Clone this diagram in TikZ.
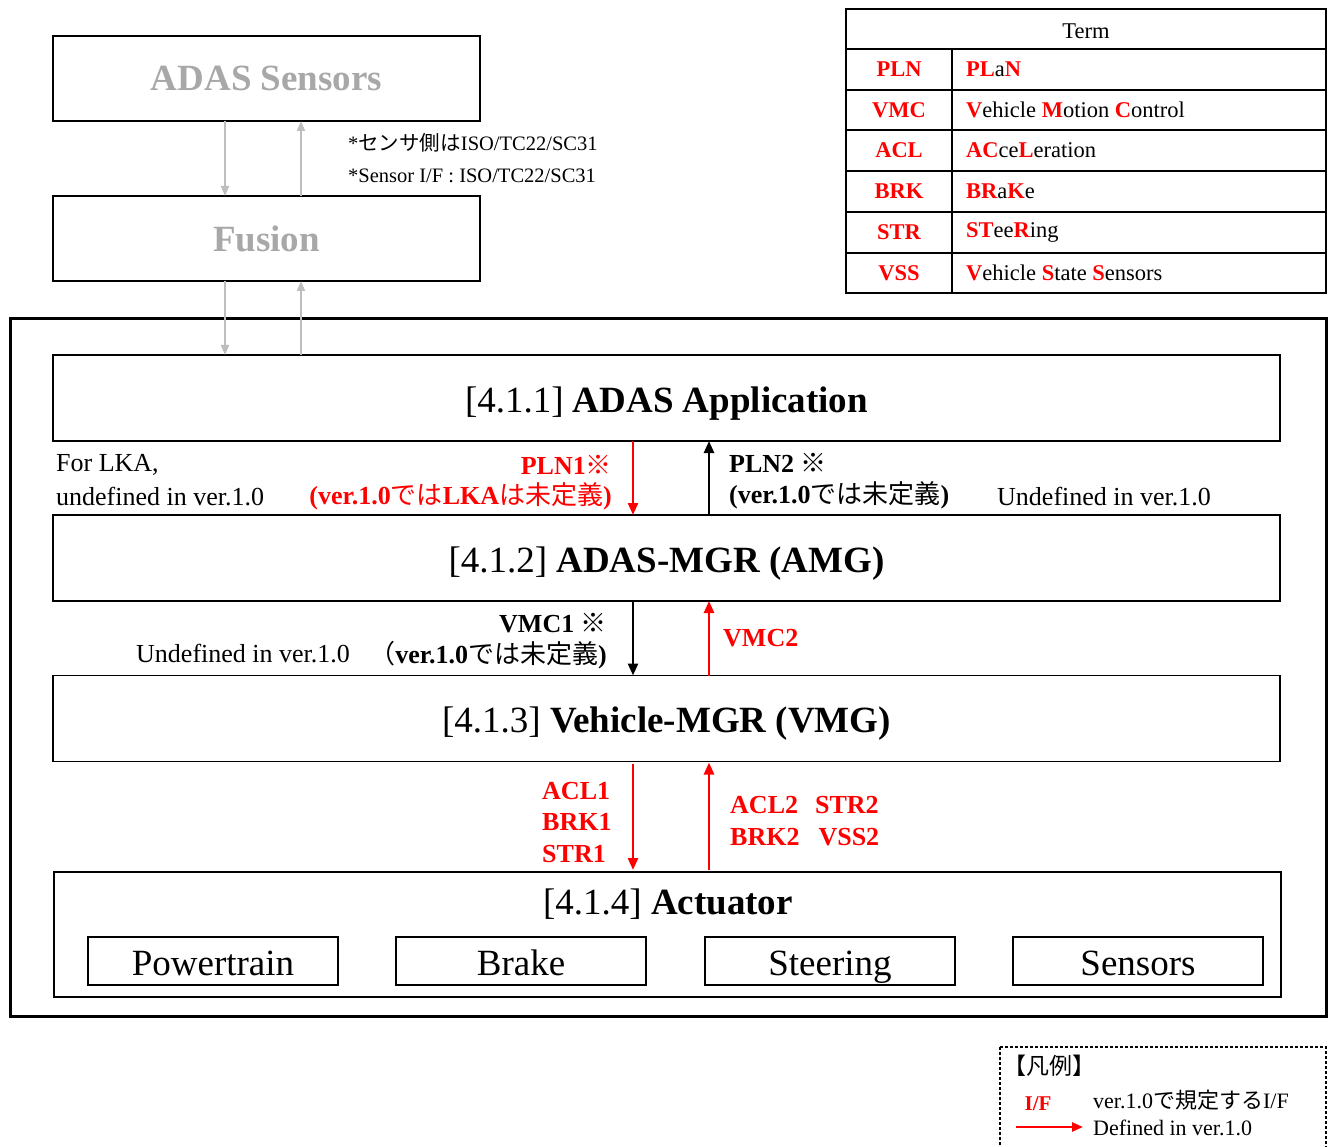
\documentclass[tikz,border=0pt]{standalone}
\usepackage{fontspec}
\setmainfont{Liberation Serif}
\newfontfamily\jp{Noto Sans CJK JP}
\usetikzlibrary{arrows.meta}
\definecolor{gtext}{RGB}{168,168,168}
\definecolor{garrow}{RGB}{190,190,190}
\newcommand\J[1]{{\jp\mdseries #1}}
\newcommand\R[1]{{\bfseries\color{red}#1}}
\newcommand\fs[1]{\fontsize{#1}{#1}\selectfont}
\begin{document}
\begin{tikzpicture}[x=1pt,y=-1pt,
  box/.style={draw,line width=1.2pt,inner sep=0,outer sep=0,minimum width=1227pt,minimum height=86pt,font=\fs{37},text height=28pt,text depth=0pt},
  topbox/.style={draw,line width=1.2pt,inner sep=0,outer sep=0,minimum width=427pt,minimum height=85pt,font=\fs{37}\bfseries,text=gtext},
  subbox/.style={draw,line width=1.2pt,inner sep=0,outer sep=0,minimum width=250pt,minimum height=48pt,font=\fs{37},text height=29pt,text depth=0pt},
  lbl/.style={inner sep=0,font=\fs{26}},
  blbl/.style={inner sep=0,font=\fs{26}\bfseries},
  garr/.style={draw=garrow,line width=2pt,-{Triangle[length=10pt,width=8pt]}},
  rarr/.style={draw=red,line width=2.6pt,-{Triangle[length=12pt,width=10pt]}},
  karr/.style={draw=black,line width=2.6pt,-{Triangle[length=12pt,width=10pt]}},
  note/.style={inner sep=0,font=\fs{20.5},anchor=west},
  cell/.style={inner sep=0,font=\fs{22.5}},
  tline/.style={line width=1.8pt},
]
\useasboundingbox (0,0) rectangle (1330,1147);
\clip (0,0) rectangle (1330,1147);

% top grey boxes
\node[topbox] (sens) at (266.5,78.5) {ADAS Sensors};
\node[topbox] (fus) at (266.5,238.5) {Fusion};
\draw[garr] ([xshift=-41.5pt]sens.south) -- ([xshift=-41.5pt]fus.north);
\draw[garr] ([xshift=34.5pt]fus.north) -- ([xshift=34.5pt]sens.south);
\node[note] (n1) at (348,143) {*\J{センサ側は}ISO/TC22/SC31};
\node[note] (n2) at (348,176) {*Sensor I/F : ISO/TC22/SC31};

% term table
\draw[tline] (846,9) rectangle (1326,293);
\foreach \yy in {49,90,130,171,212,253} \draw[tline] (846,\yy) -- (1326,\yy);
\draw[tline] (952,49) -- (952,293);
\node[cell] (th) at (1086,31) {Term};
\node[cell,text=red,font=\fs{22.5}\bfseries] (t1) at (899,69.5) {PLN};
\node[cell,text=red,font=\fs{22.5}\bfseries] (t2) at (899,110) {VMC};
\node[cell,text=red,font=\fs{22.5}\bfseries] (t3) at (899,150.5) {ACL};
\node[cell,text=red,font=\fs{22.5}\bfseries] (t4) at (899,191.5) {BRK};
\node[cell,text=red,font=\fs{22.5}\bfseries] (t5) at (899,232.5) {STR};
\node[cell,text=red,font=\fs{22.5}\bfseries] (t6) at (899,273) {VSS};
\node[cell,anchor=west] (d1) at (966,69.5) {\R{PL}a\R{N}};
\node[cell,anchor=west] (d2) at (966,110) {\R{V}ehicle \R{M}otion \R{C}ontrol};
\node[cell,anchor=west] (d3) at (966,150.5) {\R{AC}ce\R{L}eration};
\node[cell,anchor=west] (d4) at (966,191.5) {\R{BR}a\R{K}e};
\node[cell,anchor=west] (d5) at (966,232.5) {\R{ST}ee\R{R}ing};
\node[cell,anchor=west] (d6) at (966,273) {\R{V}ehicle \R{S}tate \R{S}ensors};

% outer frame
\node[draw,line width=3pt,inner sep=0,outer sep=0,minimum width=1316pt,minimum height=697pt] (frame) at (668,667.5) {};

% main boxes
\node[box] (app) at (666.5,398) {[4.1.1] \textbf{ADAS Application}};
\node[box] (amg) at (666.5,558) {[4.1.2] \textbf{ADAS-MGR (AMG)}};
\node[box] (vmg) at (666.5,718.5) {[4.1.3] \textbf{Vehicle-MGR (VMG)}};
\node[box,minimum height=125pt] (act) at (667.5,934.5) {};
\node[inner sep=0,font=\fs{37},anchor=base] (acttitle) at (668,914) {[4.1.4] \textbf{Actuator}};
\node[subbox] (pt) at (213,961) {Powertrain};
\node[subbox] (br) at (521,961) {Brake};
\node[subbox] (st) at (830,961) {Steering};
\node[subbox] (se) at (1138,961) {Sensors};

% grey arrows fusion <-> app
\draw[garr] ([xshift=-41.5pt]fus.south) -- ([xshift=-441.5pt]app.north);
\draw[garr] ([xshift=-365.5pt]app.north) -- ([xshift=34.5pt]fus.south);

% interface arrows
\draw[rarr] ([xshift=-33.5pt]app.south) -- ([xshift=-33.5pt]amg.north);
\draw[karr] ([xshift=42.5pt]amg.north) -- ([xshift=42.5pt]app.south);
\draw[karr] ([xshift=-33.5pt]amg.south) -- ([xshift=-33.5pt]vmg.north);
\draw[rarr] ([xshift=42.5pt]vmg.north) -- ([xshift=42.5pt]amg.south);
\draw[rarr] ([xshift=-33.5pt,yshift=-2pt]vmg.south) -- ([xshift=-34.5pt,yshift=2pt]act.north);
\draw[rarr] ([xshift=41.5pt,yshift=2pt]act.north) -- ([xshift=42.5pt,yshift=-1pt]vmg.south);

% labels
\node[lbl,anchor=west] (lka1) at (56,465) {For LKA,};
\node[lbl,anchor=west] (lka2) at (56,497) {undefined in ver.1.0};
\node[blbl,anchor=east,text=red] (pln1a) at (612,465) {PLN1\J{※}};
\node[blbl,anchor=east,text=red] (pln1b) at (612,496) {(ver.1.0\J{では}LKA\J{は未定義})};
\node[blbl,anchor=west] (pln2a) at (729,463) {PLN2 \J{※}};
\node[blbl,anchor=west] (pln2b) at (729,495) {(ver.1.0\J{では未定義})};
\node[lbl,anchor=west] (und1) at (997,497) {Undefined in ver.1.0};
\node[blbl,anchor=east] (vmc1a) at (607,623) {VMC1 \J{※}};
\node[blbl,anchor=east] (vmc1b) at (607,655) {\J{（}ver.1.0\J{では未定義})};
\node[lbl,anchor=west] (und2) at (136,654) {Undefined in ver.1.0};
\node[blbl,anchor=west,text=red] (vmc2) at (723,638) {VMC2};
\node[blbl,anchor=west,text=red] (acl1) at (542,791) {ACL1};
\node[blbl,anchor=west,text=red] (brk1) at (542,822) {BRK1};
\node[blbl,anchor=west,text=red] (str1) at (542,854) {STR1};
\node[blbl,anchor=west,text=red] (acl2) at (730,805) {ACL2\hspace{17pt}STR2};
\node[blbl,anchor=west,text=red] (brk2) at (730,837) {BRK2\hspace{19pt}VSS2};

% legend
\draw[dash pattern=on 3pt off 2pt,line width=1.3pt] (1000,1047) rectangle (1326,1170);
\node[note,font=\fs{23}] (lgt) at (1003,1066) {\J{【凡例】}};
\node[inner sep=0,font=\fs{21}\bfseries,text=red] (lif) at (1038,1104) {I/F};
\node[note,font=\fs{22}] (l1) at (1093,1100) {ver.1.0\J{で規定する}I/F};
\coordinate (la) at (1016,1127);
\coordinate (lb) at (1083,1127);
\draw[draw=red,line width=2.4pt,-{Triangle[length=11pt,width=9pt]}] (la) -- (lb);
\node[note,font=\fs{22}] (l2) at (1093,1128) {Defined in ver.1.0};
\end{tikzpicture}
\end{document}
